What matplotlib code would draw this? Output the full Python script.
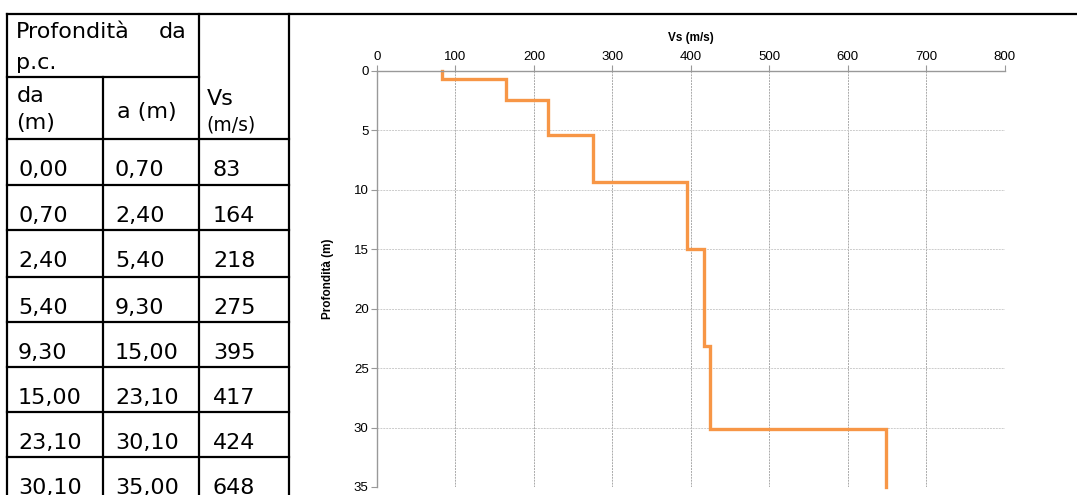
import numpy as np
import matplotlib
matplotlib.use("Agg")
import matplotlib.pyplot as plt

plt.rcParams['font.family'] = ['Liberation Sans', 'DejaVu Sans']

# dati del profilo Vs
da = [0.00, 0.70, 2.40, 5.40, 9.30, 15.00, 23.10, 30.10]
a = [0.70, 2.40, 5.40, 9.30, 15.00, 23.10, 30.10, 35.00]
vs = [83, 164, 218, 275, 395, 417, 424, 648]

x_ticks = [0, 100, 200, 300, 400, 500, 600, 700, 800]
y_ticks = [0, 5, 10, 15, 20, 25, 30, 35]


def fmt(v):
    return f"{v:.2f}".replace(".", ",")


fig = plt.figure(figsize=(10.77, 4.95), dpi=100)

# --- tabella (coordinate in pixel) ---
tab = fig.add_axes([0, 0, 1, 1])
tab.set_xlim(0, 1077)
tab.set_ylim(495, 0)
tab.axis("off")

lw = 1.6
tab.plot([7, 1077], [14, 14], color="black", lw=lw)
for xv, y0 in [(7, 14), (103, 77), (199, 14), (289, 14)]:
    tab.plot([xv, xv], [y0, 495], color="black", lw=lw)
tab.plot([7, 199], [77, 77], color="black", lw=lw)
row_lines = [139, 185, 230, 277, 322, 367, 412, 457]
for yv in row_lines:
    tab.plot([7, 289], [yv, yv], color="black", lw=lw)

tf = "DejaVu Sans"
fs = 16
tab.text(16, 32, "Profondità", fontsize=fs, va="center", family=tf)
tab.text(187, 32, "da", fontsize=fs, va="center", ha="right", family=tf)
tab.text(16, 63, "p.c.", fontsize=fs, va="center", family=tf)
tab.text(17, 96, "da", fontsize=fs, va="center", family=tf)
tab.text(16, 123, "(m)", fontsize=fs, va="center", family=tf)
tab.text(117, 112, "a (m)", fontsize=fs, va="center", family=tf)
tab.text(207, 99, "Vs", fontsize=fs, va="center", family=tf)
tab.text(206, 125, "(m/s)", fontsize=13.5, va="center", family=tf)

for i in range(len(vs)):
    yc = row_lines[i] + 31
    tab.text(18, yc, fmt(da[i]), fontsize=fs, va="center", family=tf)
    tab.text(115, yc, fmt(a[i]), fontsize=fs, va="center", family=tf)
    tab.text(213, yc, str(vs[i]), fontsize=fs, va="center", family=tf)

# --- grafico ---
ax = fig.add_axes([0.350, 0.0162, 0.583, 0.8404])
x_step = np.repeat(vs, 2)
y_step = np.column_stack([da, a]).ravel()
ax.plot(x_step, y_step, color="#F79646", lw=2.4, solid_joinstyle="miter", clip_on=False)

ax.set_xlim(0, 800)
ax.set_ylim(35, 0)
ax.set_xticks(x_ticks)
ax.set_yticks(y_ticks)
ax.xaxis.tick_top()
ax.xaxis.set_label_position("top")
ax.set_xlabel("Vs (m/s)", fontsize=8.5, fontweight="bold", labelpad=7)
ax.set_ylabel("Profondità (m)", fontsize=8.5, fontweight="bold", labelpad=14)
ax.tick_params(axis="both", labelsize=9.5, color="#999999", length=4, width=0.8, pad=2)

ax.xaxis.grid(True, color="#aaaaaa", linestyle=(0, (2, 1)), lw=0.7)
ax.yaxis.grid(True, color="#cccccc", linestyle=(0, (2, 1)), lw=0.7)
ax.set_axisbelow(True)
for s in ["right", "bottom"]:
    ax.spines[s].set_visible(False)
for s in ["left", "top"]:
    ax.spines[s].set_color("#999999")
    ax.spines[s].set_linewidth(1.0)

fig.savefig("out.png", dpi=100)
